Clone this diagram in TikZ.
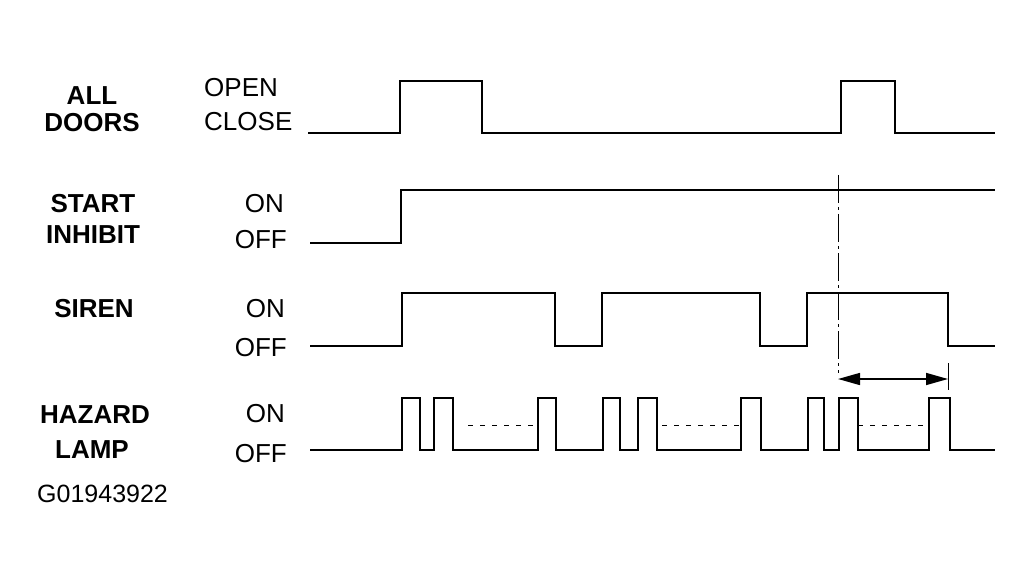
\documentclass[tikz,border=0pt]{standalone}
\usepackage{fontspec}
\setmainfont{Liberation Sans}
\usetikzlibrary{arrows.meta}
\begin{document}
\begin{tikzpicture}[x=1pt,y=-1pt,
  wave/.style={line width=2.5pt,line join=miter},
  dots/.style={line width=1pt,dash pattern=on 5pt off 7pt},
  guide/.style={line width=1pt,dash pattern=on 28pt off 4pt on 3pt off 4pt},
  sig/.style={font=\fontsize{26}{30}\selectfont\bfseries,inner sep=0pt,anchor=base},
  lvl/.style={font=\fontsize{26}{30}\selectfont,inner sep=0pt},
  span/.style={line width=1.5pt,{Triangle[length=22pt,width=12pt]}-{Triangle[length=22pt,width=12pt]}}]
\useasboundingbox (0,0) rectangle (1033,580);
% signal names
\node[sig] (all) at (92,105) {ALL};
\node[sig] (doors) at (92,132) {DOORS};
\node[sig] (start) at (93,212) {START};
\node[sig] (inhibit) at (93,243) {INHIBIT};
\node[sig] (siren) at (94,317) {SIREN};
\node[sig] (hazard) at (95,423) {HAZARD};
\node[sig] (lamp) at (92,458) {LAMP};
% levels
\node[lvl,anchor=base west] (open) at (204,97) {OPEN};
\node[lvl,anchor=base west] (close) at (204,131) {CLOSE};
\node[lvl,anchor=base east] (on1) at (284,212) {ON};
\node[lvl,anchor=base east] (off1) at (287,248) {OFF};
\node[lvl,anchor=base east] (on2) at (285,317) {ON};
\node[lvl,anchor=base east] (off2) at (287,356) {OFF};
\node[lvl,anchor=base east] (on3) at (285,422) {ON};
\node[lvl,anchor=base east] (off3) at (287,462) {OFF};
\node[inner sep=0pt,anchor=base west,font=\fontsize{25}{29}\selectfont] (code) at (37,502) {G01943922};
% waveforms
\draw[wave] (308,133) -- (400,133) |- (482,81) |- (841,133) |- (895,81) |- (995,133);
\draw[wave] (310,243) -- (401,243) |- (995,190);
\draw[wave] (310,346) -- (402,346) |- (555,293) |- (602,346) |- (760,293) |- (807,346) |- (948,293) |- (995,346);
\draw[wave] (310,450) -- (402,450) |- (420,398) |- (434,450) |- (453,398) |- (538,450) |- (556,398)
  |- (603,450) |- (620,398) |- (638,450) |- (657,398) |- (741,450) |- (761,398) |- (808,450)
  |- (824,398) |- (839,450) |- (858,398) |- (929,450) |- (950,398) |- (995,450);
\draw[dots] (468,425) -- (538,425);
\draw[dots] (662,425) -- (741,425);
\draw[dots] (858,425) -- (929,425);
% timing span
\coordinate (gtop) at (838,175);
\coordinate (gbot) at (838,373);
\coordinate (arrL) at (838,379);
\coordinate (arrR) at (948,379);
\coordinate (tickT) at (948,363);
\coordinate (tickB) at (948,390);
\draw[guide] (gtop) -- (gbot);
\draw[line width=1pt] (tickT) -- (tickB);
\draw[span] (arrL) -- (arrR);
\end{tikzpicture}
\end{document}
